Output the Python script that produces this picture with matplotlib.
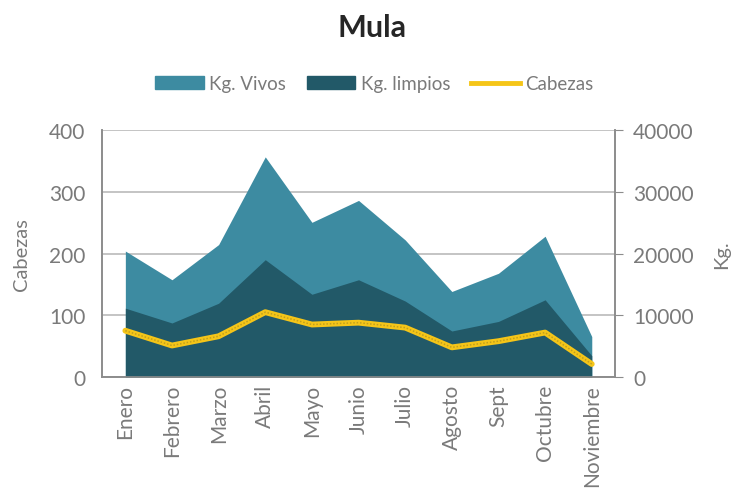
import numpy as np
import matplotlib.pyplot as plt
from matplotlib.patches import Patch
from matplotlib.lines import Line2D

plt.rcParams['font.family'] = ['Lato', 'DejaVu Sans']

meses = ['Enero', 'Febrero', 'Marzo', 'Abril', 'Mayo', 'Junio', 'Julio',
         'Agosto', 'Sept', 'Octubre', 'Noviembre']
kg_vivos = [20400, 15750, 21450, 35650, 25050, 28600, 22200, 13850, 16800, 22800, 6550]
kg_limpios = [11150, 8750, 11950, 19000, 13400, 15750, 12300, 7450, 9000, 12500, 3450]
cabezas = [75, 51, 66, 105, 85, 88, 80, 48, 58, 72, 21]

gris = '#8C8C8C'
txt = '#7A7A7A'
c_vivos = '#3D8BA1'
c_limpios = '#225968'

fig = plt.figure(figsize=(7.34, 5.02), dpi=100)
ax = fig.add_axes([0.139, 0.247, 0.699, 0.492])
ax2 = ax.twinx()

x = np.arange(len(meses))

# areas on the Kg axis, behind the Cabezas line
ax2.fill_between(x, 0, kg_vivos, color=c_vivos, lw=0, zorder=2)
ax2.fill_between(x, 0, kg_limpios, color=c_limpios, lw=0, zorder=3)
ax2.set_ylim(0, 40000)
ax2.set_yticks([0, 10000, 20000, 30000, 40000])
ax2.grid(axis='y', color='#BFBFBF', lw=1.3, zorder=1)
ax2.set_axisbelow(True)

ax.set_zorder(ax2.get_zorder() + 1)
ax.patch.set_visible(False)
ax.plot(x, cabezas, color='#F5C518', lw=4.2, solid_capstyle='round', zorder=5)
ax.plot(x, cabezas, color='#BFA020', lw=1.1, ls=(0, (1, 1.2)), zorder=6)
ax.set_ylim(0, 400)
ax.set_yticks([0, 100, 200, 300, 400])
ax.set_xlim(-0.5, len(meses) - 0.5)
ax.set_xticks(x)
ax.set_xticklabels(meses, rotation=90, fontsize=15.5)

for a in (ax, ax2):
    for s in a.spines.values():
        s.set_color(gris)
        s.set_linewidth(1.2)
    a.spines['top'].set_visible(False)
    a.tick_params(colors=txt, labelsize=15)

ax.tick_params(axis='y', length=0, pad=12)
ax.tick_params(axis='x', length=0, pad=5)
ax2.tick_params(axis='y', direction='out', length=6, color=gris, pad=7)

ax.set_ylabel('Cabezas', color=txt, fontsize=14.5, labelpad=14)
ax2.set_ylabel('Kg.', color=txt, fontsize=14.5, labelpad=14)

fig.text(0.507, 0.945, 'Mula', ha='center', va='center', fontsize=22,
         fontweight='bold', color='#262626')

handles = [Patch(color=c_vivos, label='Kg. Vivos'),
           Patch(color=c_limpios, label='Kg. limpios'),
           Line2D([], [], color='#F5C518', lw=3.5, label='Cabezas')]
fig.legend(handles=handles, loc='center', bbox_to_anchor=(0.51, 0.831),
           ncol=3, frameon=False, fontsize=13.5, labelcolor=txt,
           handlelength=2.6, handletextpad=0.3, columnspacing=1.1)

plt.savefig('out.png', dpi=100)
